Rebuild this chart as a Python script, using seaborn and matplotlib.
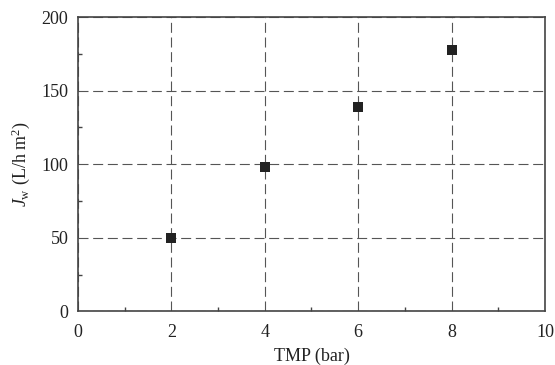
import matplotlib
matplotlib.use("Agg")
import matplotlib.pyplot as plt
import seaborn as sns
import pandas as pd
from matplotlib.ticker import MultipleLocator

tmp_bar = [2, 4, 6, 8]
flux = [50, 98, 139, 178]

sns.set_theme(style="white")
plt.rcParams['font.family'] = ['Liberation Serif', 'DejaVu Serif']
plt.rcParams['mathtext.fontset'] = 'custom'
plt.rcParams['mathtext.rm'] = 'Liberation Serif'
plt.rcParams['mathtext.it'] = 'Liberation Serif:italic'

df = pd.DataFrame({"TMP": tmp_bar, "Jw": flux})

fig = plt.figure(figsize=(5.55, 3.65), dpi=100)
ax = fig.add_axes([0.1405, 0.147, 0.8415, 0.806])

ax.set_xlim(0, 10)
ax.set_ylim(0, 200)
ax.xaxis.set_major_locator(MultipleLocator(2))
ax.xaxis.set_minor_locator(MultipleLocator(1))
ax.yaxis.set_major_locator(MultipleLocator(50))
ax.yaxis.set_minor_locator(MultipleLocator(25))

ax.grid(True, which='major', color='#555555', linestyle=(0, (9, 4.2)), linewidth=0.8)
ax.set_axisbelow(True)

sns.scatterplot(data=df, x="TMP", y="Jw", marker='s', s=45, color='#222222',
                edgecolor='#222222', linewidth=0, ax=ax, zorder=3)

for sp in ax.spines.values():
    sp.set_color('#444444')
    sp.set_linewidth(1.2)

ax.tick_params(which='major', direction='out', length=4, width=1, color='#444444',
               labelsize=13, labelcolor='#222222', top=False, right=False)
ax.tick_params(axis='x', which='major', pad=5)
ax.tick_params(axis='y', which='major', pad=3)
ax.tick_params(which='minor', direction='in', length=3, width=1, color='#444444',
               bottom=True, left=True, top=False, right=False)

ax.set_xlabel("TMP (bar)", fontsize=13, color='#222222', labelpad=5)
ax.set_ylabel(r"$J_{\mathrm{w}}$ (L/h m$^{2}$)", fontsize=13, color='#222222', labelpad=7)

fig.savefig("out.png", dpi=100)
